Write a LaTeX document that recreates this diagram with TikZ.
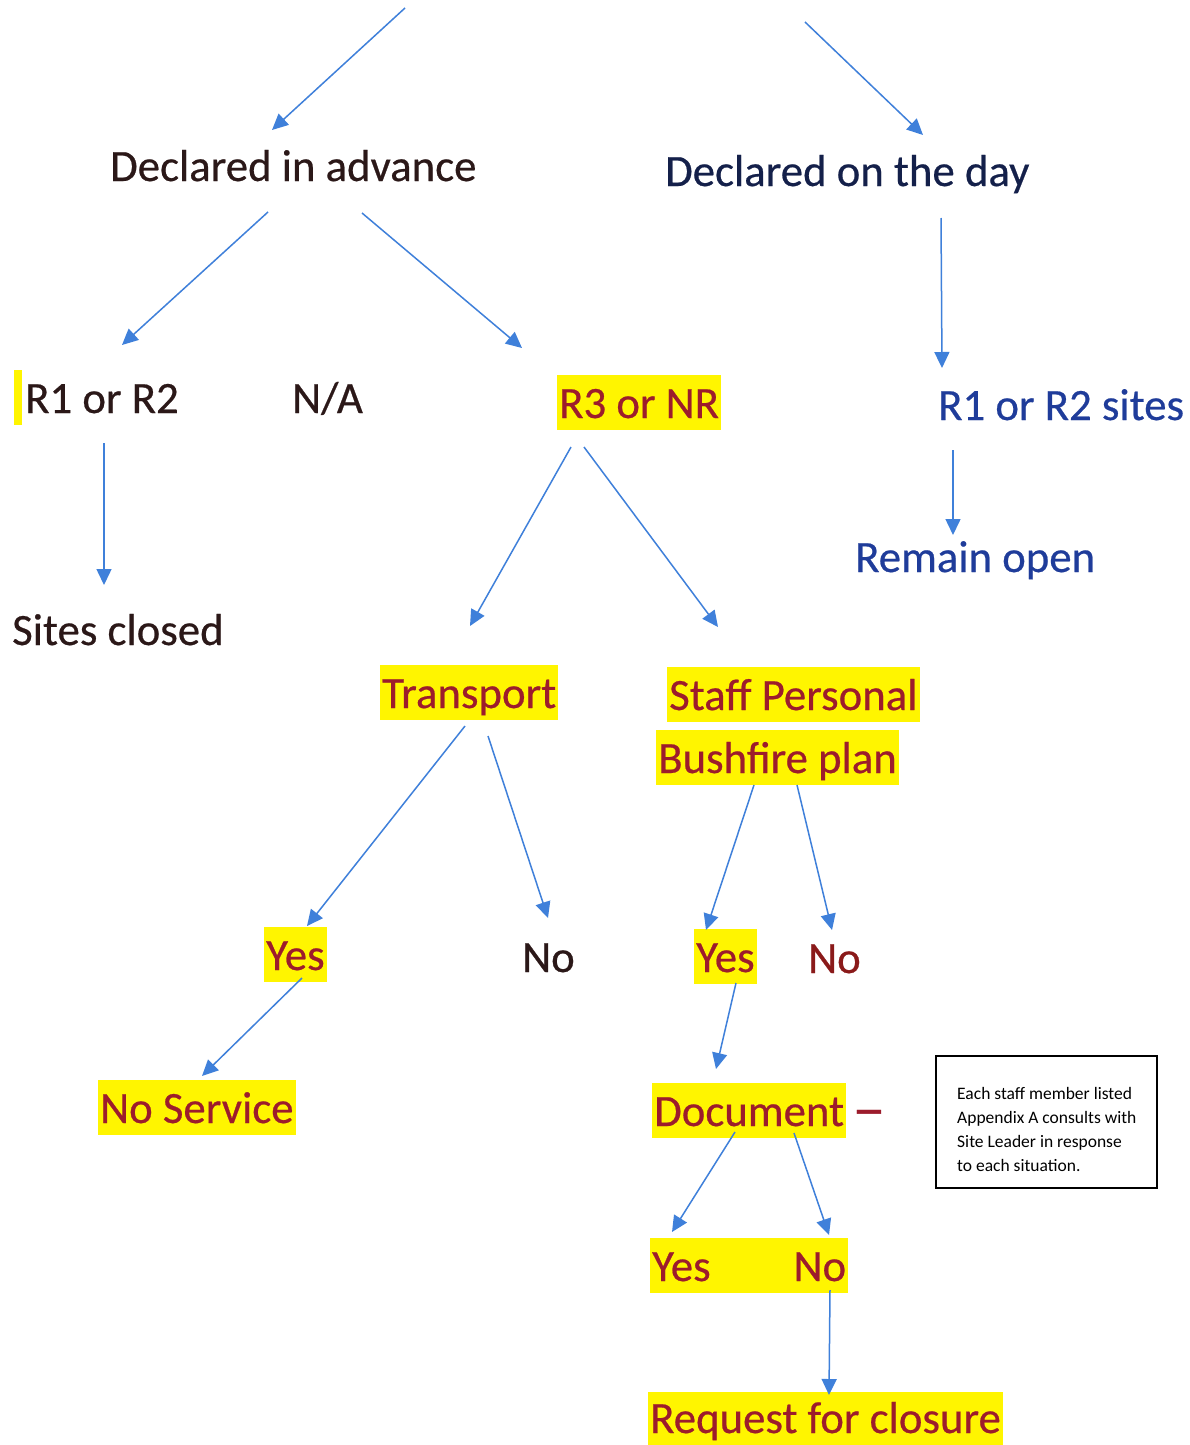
\documentclass[tikz,border=0pt]{standalone}
\usepackage{fontspec}
\setmainfont[RawFeature={embolden=0.5}]{Carlito}
\newfontfamily\infofont{Carlito}
\usetikzlibrary{arrows.meta}
\definecolor{darktxt}{HTML}{2B1818}
\definecolor{navytxt}{HTML}{14204A}
\definecolor{bluetxt}{HTML}{1F3C9A}
\definecolor{crim}{HTML}{9C1C2C}
\definecolor{darkred}{HTML}{8A1A1A}
\definecolor{hlyellow}{HTML}{FFF500}
\definecolor{arrblue}{HTML}{3F80DA}
\tikzset{
  lbl/.style={anchor=base west, inner sep=0pt, font=\fontsize{44.8}{50}\selectfont},
  hl/.style={anchor=base west, fill=hlyellow, text=crim, inner xsep=2pt, inner ysep=0pt,
     text height=43pt, text depth=12pt, font=\fontsize{44.8}{50}\selectfont},
  conn/.style={draw=arrblue, line width=1.5pt, -{Triangle[length=16pt,width=15pt]}},
  infobox/.style={draw=black, line width=1.6pt, minimum width=221pt, minimum height=132pt, inner sep=0pt},
  infotxt/.style={anchor=base west, inner sep=0pt, align=left,
     font=\infofont\fontsize{17.5}{24}\selectfont, text=black}
}
\begin{document}
\begin{tikzpicture}[x=1pt,y=-1pt]
\useasboundingbox (0,0) rectangle (1189,1445);
\clip (0,0) rectangle (1189,1445);
\fill[white] (0,0) rectangle (1189,1445);

% text nodes
\node[lbl, text=darktxt] (adv) at (110,181) {Declared in advance};
\node[lbl, text=navytxt] (day) at (665,186) {Declared on the day};
\fill[hlyellow] (14,370) rectangle (22,425);
\node[lbl, text=darktxt] (r12) at (25,413) {R1 or R2};
\node[lbl, text=darktxt] (na) at (292,413) {N/A};
\node[hl] (r3) at (557,418) {R3 or NR};
\node[lbl, text=bluetxt] (r12s) at (938,420) {R1 or R2 sites};
\node[lbl, text=bluetxt] (open) at (855,572) {Remain open};
\node[lbl, text=darktxt] (closed) at (12,645) {Sites closed};
\node[hl] (trans) at (380,708) {Transport};
\node[hl] (staff) at (667,710) {Staff Personal};
\node[hl] (bush) at (656,773) {Bushfire plan};
\node[hl] (yes1) at (264,970) {Yes};
\node[lbl, text=darktxt] (no1) at (522,972) {No};
\node[hl] (yes2) at (694,972) {Yes};
\node[lbl, text=darkred] (no2) at (808,973) {No};
\node[hl] (nserv) at (98,1123) {No Service};
\node[hl] (doc) at (652,1126) {Document};
\node[lbl, text=crim] (dash) at (852,1128) {\scalebox{1.5}[1.3]{–}};
\node[hl] (yesno) at (650,1281) {Yes\hspace*{83pt}No};
\node[hl, text height=41pt] (req) at (648,1433) {Request for closure};

% info box
\node[infobox] (info) at (1046.5,1122) {};
\node[infotxt] (infotext) at (957,1171) {Each staff member listed\\Appendix A consults with\\Site Leader in response\\to each situation.};

% connector end points
\coordinate (top1) at (405,8);
\coordinate (top2) at (805,22);
\coordinate (a1) at (272,130);
\coordinate (a2) at (923,135);
\coordinate (b1) at (268,212);  \coordinate (b1e) at (122,345);
\coordinate (b2) at (362,213);  \coordinate (b2e) at (522,348);
\coordinate (c1) at (941,218);  \coordinate (c1e) at (942,368);
\coordinate (d1) at (104,443);  \coordinate (d1e) at (104,585);
\coordinate (e1) at (571,447);  \coordinate (e1e) at (470,626);
\coordinate (e2) at (584,447);  \coordinate (e2e) at (718,627);
\coordinate (f1) at (953,450);  \coordinate (f1e) at (953,535);
\coordinate (g1) at (465,726);  \coordinate (g1e) at (307,926);
\coordinate (g2) at (488,736);  \coordinate (g2e) at (548,918);
\coordinate (h1) at (754,785);  \coordinate (h1e) at (706,930);
\coordinate (h2) at (797,785);  \coordinate (h2e) at (832,930);
\coordinate (i1) at (302,978);  \coordinate (i1e) at (202,1076);
\coordinate (j1) at (736,983);  \coordinate (j1e) at (716,1069);
\coordinate (k1) at (735,1132); \coordinate (k1e) at (672,1232);
\coordinate (k2) at (794,1133); \coordinate (k2e) at (829,1235);
\coordinate (l1) at (830,1290); \coordinate (l1e) at (829,1395);

% connectors
\draw[conn] (top1) -- (a1);
\draw[conn] (top2) -- (a2);
\draw[conn] (b1) -- (b1e);
\draw[conn] (b2) -- (b2e);
\draw[conn] (c1) -- (c1e);
\draw[conn] (d1) -- (d1e);
\draw[conn] (e1) -- (e1e);
\draw[conn] (e2) -- (e2e);
\draw[conn] (f1) -- (f1e);
\draw[conn] (g1) -- (g1e);
\draw[conn] (g2) -- (g2e);
\draw[conn] (h1) -- (h1e);
\draw[conn] (h2) -- (h2e);
\draw[conn] (i1) -- (i1e);
\draw[conn] (j1) -- (j1e);
\draw[conn] (k1) -- (k1e);
\draw[conn] (k2) -- (k2e);
\draw[conn] (l1) -- (l1e);
\end{tikzpicture}
\end{document}
